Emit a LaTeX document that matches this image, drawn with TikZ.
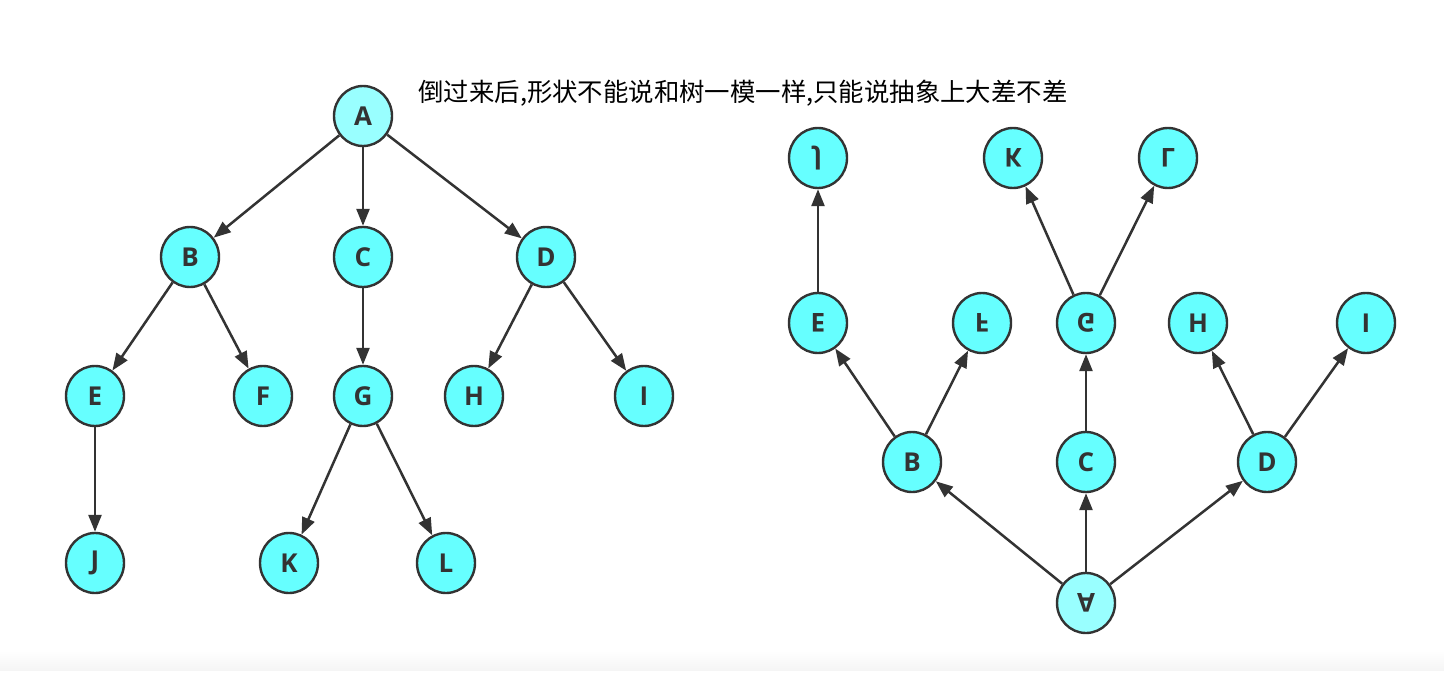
\documentclass[tikz,border=0pt]{standalone}
\usepackage{fontspec}
\setsansfont{Open Sans}
\newfontfamily\cjk{Noto Sans CJK SC}
\usetikzlibrary{arrows.meta,shapes.geometric}
\definecolor{nfill}{HTML}{66FFFF}
\definecolor{afill}{HTML}{99FFFF}
\definecolor{dk}{HTML}{333333}
\definecolor{band}{HTML}{F5F5F5}
\newcommand{\fl}[1]{\scalebox{1}[-1]{#1}}
\begin{document}
\begin{tikzpicture}[x=0.5pt,y=-0.5pt,
  tn/.style={ellipse,draw=dk,line width=1.2pt,fill=nfill,minimum width=29pt,minimum height=30pt,inner sep=0pt,
    font=\sffamily\bfseries\fontsize{13}{14}\selectfont,text=dk},
  rootn/.style={tn,fill=afill},
  edge/.style={draw=dk,line width=1.25pt,-{Triangle[length=8.5pt,width=6.5pt]}}]
\useasboundingbox (0,0) rectangle (1444,679);
\fill[white] (0,0) rectangle (1444,679);
\shade[top color=white,bottom color=band] (0,650) rectangle (1444,670);
\node[font=\cjk\fontsize{12.7}{14}\selectfont,text=black] (title) at (743,93) {倒过来后,形状不能说和树一模一样,只能说抽象上大差不差};
% left tree
\node[rootn] (A) at (363,116) {A};
\node[tn] (B) at (190,257) {B};
\node[tn] (C) at (363,257) {C};
\node[tn] (D) at (546,257) {D};
\node[tn] (E) at (95,396) {E};
\node[tn] (F) at (263,396) {F};
\node[tn] (G) at (363,396) {G};
\node[tn] (H) at (474,396) {H};
\node[tn] (I) at (644,396) {I};
\node[tn] (J) at (95,563) {J};
\node[tn] (K) at (289,563) {K};
\node[tn] (L) at (446,563) {L};
\draw[edge] (A) -- (B);
\draw[edge] (A) -- (C);
\draw[edge] (A) -- (D);
\draw[edge] (B) -- (E);
\draw[edge] (B) -- (F);
\draw[edge] (C) -- (G);
\draw[edge] (D) -- (H);
\draw[edge] (D) -- (I);
\draw[edge] (E) -- (J);
\draw[edge] (G) -- (K);
\draw[edge] (G) -- (L);
% right tree (flipped)
\node[tn] (rJ) at (818,158) {\fl{J}};
\node[tn] (rK) at (1013,158) {\fl{K}};
\node[tn] (rL) at (1168,158) {\fl{L}};
\node[tn] (rE) at (818,323) {\fl{E}};
\node[tn] (rF) at (982,323) {\fl{F}};
\node[tn] (rG) at (1086,323) {\fl{G}};
\node[tn] (rH) at (1198,323) {H};
\node[tn] (rI) at (1366,323) {I};
\node[tn] (rB) at (912,462) {B};
\node[tn] (rC) at (1086,462) {C};
\node[tn] (rD) at (1267,462) {D};
\node[rootn] (rA) at (1086,603) {\fl{A}};
\draw[edge] (rA) -- (rB);
\draw[edge] (rA) -- (rC);
\draw[edge] (rA) -- (rD);
\draw[edge] (rB) -- (rE);
\draw[edge] (rB) -- (rF);
\draw[edge] (rC) -- (rG);
\draw[edge] (rD) -- (rH);
\draw[edge] (rD) -- (rI);
\draw[edge] (rE) -- (rJ);
\draw[edge] (rG) -- (rK);
\draw[edge] (rG) -- (rL);
\end{tikzpicture}
\end{document}
